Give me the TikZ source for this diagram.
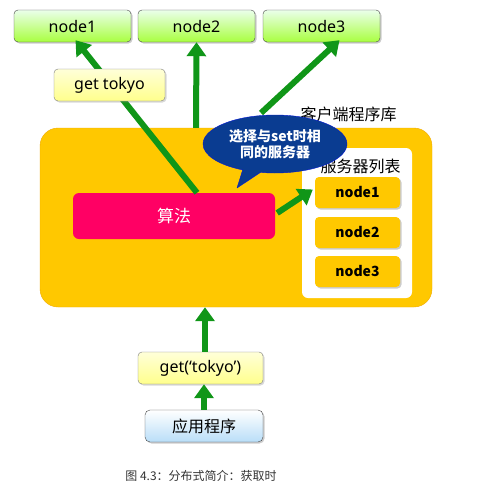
\documentclass[tikz,border=0pt]{standalone}
\usepackage{fontspec}
\setmainfont{Noto Sans CJK SC}
\newfontfamily\latinfont{Noto Sans}
\usepackage{tikz}
\usetikzlibrary{positioning,arrows.meta,shapes.callouts,shadows}

\definecolor{flowgreen}{RGB}{16,150,24}
\definecolor{libyellow}{RGB}{255,200,0}
\definecolor{libedge}{RGB}{240,170,0}
\definecolor{algpink}{RGB}{255,0,100}
\definecolor{tipblue}{RGB}{10,60,145}
\definecolor{edgegray}{RGB}{70,70,70}
\definecolor{appblue}{RGB}{185,222,248}

\tikzset{
  srvbox/.style={draw=edgegray, rounded corners=4pt, top color=green!8!white,
    bottom color=green!45!yellow!75!white, minimum width=117pt, minimum height=32pt,
    font=\latinfont\fontsize{16}{16}\selectfont, drop shadow={shadow xshift=1.5pt, shadow yshift=-1.5pt, opacity=0.4}},
  keybox/.style={draw=edgegray!70, rounded corners=4pt, top color=yellow!15!white,
    bottom color=yellow!45!white, minimum height=32pt,
    font=\latinfont\fontsize{16}{16}\selectfont, drop shadow={shadow xshift=1.5pt, shadow yshift=-1.5pt, opacity=0.3}},
  listbox/.style={fill=libyellow, rounded corners=4pt, minimum width=85pt, minimum height=31pt,
    font=\bfseries\fontsize{14}{14}\selectfont, drop shadow={shadow xshift=1.5pt, shadow yshift=-1.5pt, opacity=0.4}},
  flow/.style={draw=flowgreen, line width=6pt, -{Triangle[length=14pt, width=19pt]}}
}

\begin{document}
\begin{tikzpicture}[x=1pt, y=-1pt, line cap=butt, line join=round]
\useasboundingbox (0,0) rectangle (482,482);

% Server nodes
\node[srvbox] (n1) at (72.5,26) {node1};
\node[srvbox] (n2) at (196.5,26) {node2};
\node[srvbox] (n3) at (321.5,26) {node3};

% Client library
\node[fill=libyellow, draw=libedge, rounded corners=18pt, minimum width=392pt,
  minimum height=179pt] (client) at (236,217.5) {};
\node[font=\fontsize{16}{16}\selectfont, anchor=west] (clientlbl) at (297,114) {客户端程序库};
\node[fill=white, rounded corners=6pt, minimum width=110pt, minimum height=150pt] (list) at (357,223) {};
\node[font=\fontsize{16}{16}\selectfont, anchor=west] (listlbl) at (317,166) {服务器列表};
\node[listbox] (s1) at (357.5,192.5) {node1};
\node[listbox] (s2) at (357.5,232.5) {node2};
\node[listbox] (s3) at (357.5,271.5) {node3};
\node[fill=algpink, rounded corners=6pt, minimum width=202pt, minimum height=46pt,
  text=white, font=\fontsize{17}{17}\selectfont] (alg) at (174,216) {算法};

% Arrows
\coordinate (n3start) at (261,113);
\draw[flow] ([xshift=23pt]alg.north) -- ([xshift=3pt,yshift=2pt]n1.south);
\draw[flow] ([xshift=-40pt]client.north) -- (n2.south);
\draw[flow] (n3start) -- ([xshift=18pt,yshift=2pt]n3.south);
\draw[flow] ([xshift=2pt,yshift=3pt]alg.east) -- ([xshift=-2pt,yshift=3pt]s1.west);

% Request labels
\node[keybox, minimum width=111pt] (gettk) at (109.5,85) {get tokyo};
\node[ellipse callout, fill=tipblue, draw=blue!60!tipblue, minimum width=144pt, minimum height=58pt,
  callout absolute pointer={(237,188)}, text=white, align=center,
  font=\bfseries\fontsize{14}{16}\selectfont] (tip) at (275,144) {选择与set时相\\同的服务器};

% Application
\node[keybox, minimum width=125pt] (getq) at (200.5,368) {get(‘tokyo’)};
\node[draw=edgegray, rounded corners=5pt, top color=white, bottom color=appblue,
  minimum width=118pt, minimum height=32pt, font=\fontsize{16}{16}\selectfont,
  drop shadow={shadow xshift=1.5pt, shadow yshift=-1.5pt, opacity=0.4}] (app) at (204,426) {应用程序};
\draw[flow] ([xshift=4.5pt]getq.north) -- ([xshift=-31pt]client.south);
\draw[flow] (app.north) -- ([xshift=3.5pt]getq.south);

% Caption
\node[font=\fontsize{12}{12}\selectfont, text=black!80] (cap) at (201,476) {图 4.3：分布式简介：获取时};
\end{tikzpicture}
\end{document}
